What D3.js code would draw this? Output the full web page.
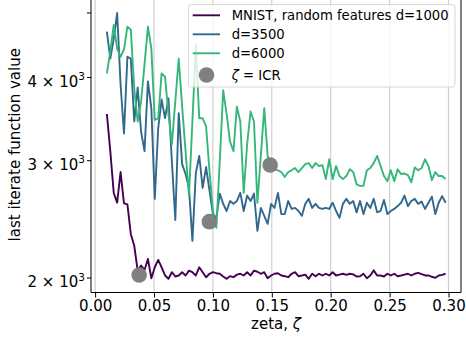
<!DOCTYPE html>
<html>
<head>
<meta charset="utf-8">
<script src="https://cdn.jsdelivr.net/npm/d3@7"></script>
<style>
  html, body { margin: 0; padding: 0; background: #fff; }
  svg { display: block; font-family: "DejaVu Sans", sans-serif; }
</style>
</head>
<body>
<svg id="chart" width="466" height="339"></svg>
<script>
// ---- data ----
const zetaMin = 0.01, zetaMax = 0.2975;

const mnist1000 = [3520,3095,2680,2590,2880,2585,2575,2323,2232,2048,
  2084,2053,2132,1995,2072,2125,2072,2014,1991,2037,
  2007,2014,2037,2014,2048,2037,2014,2072,2037,2002,
  2026,2037,2030,2026,2007,1991,2009,2002,2020,2026,
  2014,2037,2014,2048,2040,2026,2037,1995,2014,2026,
  2030,2014,2009,2002,2026,2037,2009,2014,2020,1991,
  2026,2009,2026,2014,2026,2014,2037,2014,2020,2026,
  2018,2026,2022,2007,2009,2026,1995,2014,2050,2014,
  2014,2007,2026,2014,2026,2009,2014,2020,2026,2014,
  2026,2032,2024,2014,2014,2005,1998,2014,2018,2026];

const d3500 = [4680,4262,4566,4990,3900,3290,4290,4262,3430,3857,
  3310,3095,3940,3590,2625,3350,3700,3470,3714,2990,
  2440,3530,2960,2860,2726,2270,2870,3045,2726,2930,
  2700,2490,2458,2673,2580,2517,2605,2580,2605,2680,
  2517,2655,2605,2673,2350,2544,2475,2408,2580,2544,
  2680,2490,2490,2605,2535,2544,2517,2475,2580,2625,
  2544,2580,2544,2535,2544,2535,2590,2517,2458,2580,
  2625,2580,2605,2505,2605,2490,2590,2544,2625,2505,
  2517,2615,2490,2517,2535,2560,2590,2655,2560,2605,
  2625,2580,2600,2535,2590,2645,2490,2590,2650,2590];

const d6000 = [4050,4370,4790,4411,4290,4400,4760,4710,3844,3430,
  3676,4175,4760,4411,3450,3468,4050,4005,3520,3170,
  3676,4260,3610,3095,2655,3430,4470,3468,3468,3373,
  2890,2517,2375,2990,3820,3520,3200,3095,3610,3430,
  2680,3170,3550,3430,2590,3045,3590,3045,2940,2907,
  2897,2880,2830,2880,2897,2920,2880,2920,2960,2970,
  2920,2970,2940,2950,2810,3010,2810,2940,2840,2810,
  2840,2907,2880,2760,2745,2745,2897,2920,2970,3045,
  2940,2840,2790,2897,2790,2907,2860,2865,2850,2780,
  2925,2897,2920,3010,2940,2800,2880,2840,2840,2810];

const icrZeta  = [0.0374, 0.097, 0.1486];
const icrValue = [2017, 2426, 2951];

const seriesNames  = ["MNIST, random features d=1000", "d=3500", "d=6000"];
const seriesColors = ["#440154", "#31688e", "#35b779"];
const xTickValues = [0, 0.05, 0.10, 0.15, 0.20, 0.25, 0.30];
const yTickValues = [2000, 3000, 4000, 5000];
const yTickCoefs  = ["2", "3", "4", ""];

// ---- layout ----
const svg = d3.select("#chart");
const L = 91, R = 461, T = -3, B = 292.5;

const x = d3.scaleLinear().domain([0, 0.3]).range([95.1, 448.5]);
x.domain([x.invert(L), x.invert(R)]).range([L, R]);
const y = d3.scaleLog().domain([2000, 4000]).range([277.5, 77]);
y.domain([y.invert(B), y.invert(T)]).range([B, T]);

const n = mnist1000.length;
const zeta = mnist1000.map((_, i) => zetaMin + i * (zetaMax - zetaMin) / (n - 1));
const allSeries = [mnist1000, d3500, d6000];

svg.append("defs").append("clipPath").attr("id", "clip")
  .append("rect").attr("x", L).attr("y", T).attr("width", R - L).attr("height", B - T);

// grid
svg.append("g").selectAll("line").data(xTickValues).join("line")
  .attr("x1", d => x(d)).attr("x2", d => x(d)).attr("y1", T).attr("y2", B)
  .attr("stroke", "#cfcfcf").attr("stroke-width", 1.2);

// lines
const plot = svg.append("g").attr("clip-path", "url(#clip)");
const line = d3.line().x((d, i) => x(zeta[i])).y(d => y(d));
plot.selectAll("path.series").data(allSeries).join("path")
  .attr("class", "series")
  .attr("d", d => line(d))
  .attr("fill", "none")
  .attr("stroke", (d, i) => seriesColors[i])
  .attr("stroke-width", 1.9)
  .attr("stroke-linejoin", "round");

// ICR markers
plot.selectAll("circle.icr").data(icrZeta).join("circle")
  .attr("class", "icr")
  .attr("cx", d => x(d)).attr("cy", (d, i) => y(icrValue[i]))
  .attr("r", 7.8).attr("fill", "#808080");

// x axis
const xAxis = d3.axisBottom(x).tickValues(xTickValues)
  .tickFormat(d3.format(".2f")).tickSize(5).tickPadding(2.4);
const gx = svg.append("g").attr("transform", `translate(0,${B})`).call(xAxis);
gx.select(".domain").remove();
gx.selectAll("text").attr("font-size", 15).attr("font-family", "DejaVu Sans").attr("fill", "#000");
gx.selectAll("line").attr("stroke", "#000");

// y axis (ticks)
const yAxis = d3.axisLeft(y).tickValues(yTickValues).tickSize(4).tickFormat("");
const gy = svg.append("g").attr("transform", `translate(${L},0)`).call(yAxis);
gy.select(".domain").remove();
gy.selectAll("line").attr("stroke", "#000");

// y tick labels (mathtext style)
const yl = svg.append("g").selectAll("text").data(yTickValues.filter((d, i) => yTickCoefs[i] !== ""))
  .join("text")
  .attr("x", 85).attr("y", d => y(d) + 9.5)
  .attr("text-anchor", "end").attr("font-size", 15).attr("fill", "#000");
yl.append("tspan").text((d) => yTickCoefs[yTickValues.indexOf(d)] + " \u00D7 10");
yl.append("tspan").attr("dy", -6.5).attr("font-size", 10.5).text("3");

// spines
const sp = svg.append("g").attr("stroke", "#000").attr("stroke-width", 1).attr("fill", "none");
sp.append("line").attr("x1", L).attr("x2", L).attr("y1", T).attr("y2", B);
sp.append("line").attr("x1", R).attr("x2", R).attr("y1", T).attr("y2", B);
sp.append("line").attr("x1", L).attr("x2", R).attr("y1", B).attr("y2", B);

// axis labels
const xl = svg.append("text").attr("x", (L + R) / 2 + 0).attr("y", 328.5)
  .attr("text-anchor", "middle").attr("font-size", 15).attr("fill", "#000");
xl.append("tspan").text("zeta, ");
xl.append("tspan").attr("font-style", "italic").text("\u03B6");

svg.append("text")
  .attr("transform", `translate(19.5,${(T + B) / 2}) rotate(-90)`)
  .attr("text-anchor", "middle").attr("font-size", 15).attr("fill", "#000")
  .text("last iterate function value");

// legend
const lg = svg.append("g");
lg.append("rect").attr("x", 188.5).attr("y", 4.5).attr("width", 266.5).attr("height", 82.5)
  .attr("rx", 3).attr("fill", "#fff").attr("fill-opacity", 0.8)
  .attr("stroke", "#d6d6d6").attr("stroke-width", 1);
const rowsY = [15.3, 34.3, 53.3];
seriesNames.forEach((name, i) => {
  lg.append("line").attr("x1", 192.7).attr("x2", 220).attr("y1", rowsY[i]).attr("y2", rowsY[i])
    .attr("stroke", seriesColors[i]).attr("stroke-width", 1.9);
  lg.append("text").attr("x", 231.7).attr("y", rowsY[i] + 4.7)
    .attr("font-size", 13.2).attr("fill", "#000").text(name);
});
lg.append("circle").attr("cx", 206.5).attr("cy", 75).attr("r", 7.8).attr("fill", "#808080");
const lt = lg.append("text").attr("x", 231.7).attr("y", 79.7).attr("font-size", 13.2).attr("fill", "#000");
lt.append("tspan").attr("font-style", "italic").text("\u03B6");
lt.append("tspan").text(" = ICR");
</script>
</body>
</html>
